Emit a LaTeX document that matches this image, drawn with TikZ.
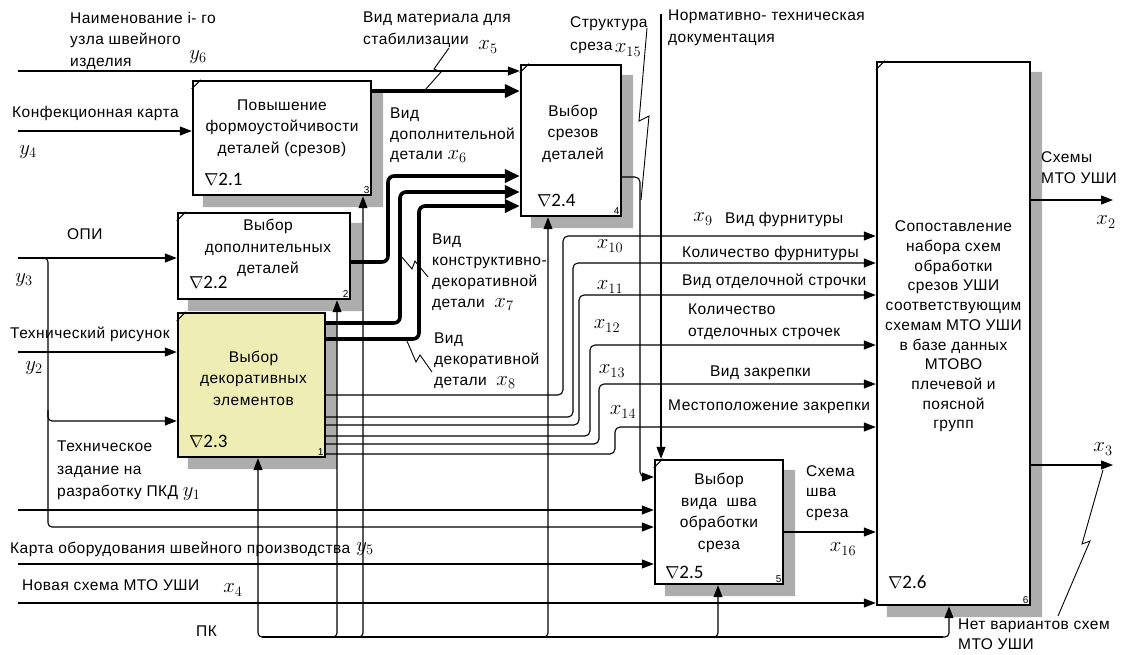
\documentclass[tikz,border=0pt]{standalone}
\usepackage{fontspec}
\setmainfont{Liberation Sans}[LetterSpace=3]
\newfontfamily\numfont{Carlito}
\usetikzlibrary{arrows.meta,positioning,calc,backgrounds}
\definecolor{boxyel}{RGB}{238,238,180}
\newcommand{\xvar}[1]{{\fontsize{21}{21}\selectfont$#1$}}
\newcommand{\boxdeco}[2]{%
    \begin{scope}[on background layer]
        \fill[shd] ($(#1.north east)+(0,11)$) -| ($(#1.south east)+(11,11)$)
            -| ($(#1.south west)+(11,0)$) -- (#1.south east) -- cycle;
    \end{scope}
    \draw[ln] ($(#1.north west)+(0,9)$) -- ($(#1.north west)+(9,0)$);
    \node[tag] at (#1.south east) {#2};
}
\tikzset{
    proc/.style={draw, line width=2.4pt, fill=white, inner sep=0pt},
    shd/.style={fill=black!32},
    ln/.style={line width=1.1pt},
    arr/.style={ln, -{Triangle[length=12pt,width=9pt]}},
    thk/.style={line width=3.6pt, -{Triangle[length=15pt,width=13pt]}},
    zig/.style={line width=0.9pt},
    boxtxt/.style={align=center, inner sep=0pt, font=\fontsize{15.5}{21.5}\selectfont},
    lbl/.style={align=left, inner sep=0pt, anchor=north west, font=\fontsize{15.5}{21.5}\selectfont},
    var/.style={inner sep=0pt, font=\fontsize{21}{24}\selectfont},
    num/.style={inner sep=0pt, anchor=west, font=\numfont\fontsize{19}{22}\selectfont},
    tag/.style={anchor=south east, inner sep=2.5pt, font=\fontsize{10}{12}\selectfont},
}

\begin{document}
\begin{tikzpicture}[x=1pt, y=-1pt]
    \useasboundingbox (0,0) rectangle (1129,654);
    \coordinate (lft) at (18,0);
    \coordinate (rgt) at (1113,0);

    % Function boxes
    \node[proc, minimum width=178pt, minimum height=114pt] (b21) at (282,138) {};
    \node[proc, minimum width=172pt, minimum height=86pt] (b22) at (264,256) {};
    \node[proc, fill=boxyel, minimum width=147pt, minimum height=144pt] (b23) at (251.5,385) {};
    \node[proc, minimum width=100pt, minimum height=151pt] (b24) at (571,140.5) {};
    \node[proc, minimum width=128pt, minimum height=124pt] (b25) at (719,522) {};
    \node[proc, minimum width=153pt, minimum height=543pt] (b26) at (953.5,333.5) {};
    \boxdeco{b21}{3}
    \boxdeco{b22}{2}
    \boxdeco{b23}{1}
    \boxdeco{b24}{4}
    \boxdeco{b25}{5}
    \boxdeco{b26}{6}

    % Box texts
    \node[boxtxt] (t21) at ($(b21)+(0,-10)$) {Повышение\\формоустойчивости\\деталей (срезов)};
    \node[boxtxt] (t22) at ($(b22)+(4,-8)$) {Выбор\\дополнительных\\деталей};
    \node[boxtxt] (t23) at ($(b23)+(2,-7)$) {Выбор\\декоративных\\элементов};
    \node[boxtxt] (t24) at ($(b24)+(2,-7)$) {Выбор\\срезов\\деталей};
    \node[boxtxt] (t25) at ($(b25)+(0,-9)$) {Выбор\\вида\ \ шва\\обработки\\среза};
    \node[boxtxt, font=\fontsize{15.5}{19.7}\selectfont] (t26) at ($(b26)+(0,-7)$)
        {Сопоставление\\набора схем\\обработки\\срезов УШИ\\соответствующим\\схемам МТО УШИ\\в базе данных\\МТОВО\\плечевой и\\поясной\\групп};
    \node[num] at ($(b21.south west)+(12,-17)$) {$\nabla$2.1};
    \node[num] at ($(b22.south west)+(12,-18)$) {$\nabla$2.2};
    \node[num] at ($(b23.south west)+(12,-17)$) {$\nabla$2.3};
    \node[num] at ($(b24.south west)+(17,-17)$) {$\nabla$2.4};
    \node[num] at ($(b25.south west)+(11,-13)$) {$\nabla$2.5};
    \node[num] at ($(b26.south west)+(12,-24)$) {$\nabla$2.6};

    % Inputs
    \draw[arr] (lft |- 0,71) -- (b24.west |- 0,71);
    \draw[arr] (lft |- 0,131) -- (b21.west |- 0,131);
    \draw[arr] (lft |- 0,258) -- (b22.west |- 0,258);
    \draw[arr] (lft |- 0,352) -- (b23.west |- 0,352);
    \draw[arr, rounded corners=4pt] (42,258) -| (48,527) -- (b25.west |- 0,527);
    \draw[arr, rounded corners=4pt] (48,410) |- (b23.west |- 0,421);
    \draw[arr] (lft |- 0,510) -- (b25.west |- 0,510);
    \draw[arr] (lft |- 0,564) -- (b25.west |- 0,564);
    \draw[arr] (lft |- 0,603) -- (b26.west |- 0,603);

    % Controls
    \draw[arr] (661,14) -- (b25.north -| 661,0);
    \draw[arr, rounded corners=5pt] (b24.east |- 0,177) -| (640,477) -- (b25.west |- 0,477);

    % Mechanisms
    \draw[ln] (262,637) -- (943,637);
    \draw[arr, rounded corners=4pt] (266,637) -| (b23.south -| 258,0);
    \draw[arr, rounded corners=4pt] (329,637) -| (b22.south -| 337,0);
    \draw[arr, rounded corners=4pt] (355,637) -| (b21.south -| 363,0);
    \draw[arr, rounded corners=4pt] (540,637) -| (b24.south -| 548,0);
    \draw[arr, rounded corners=4pt] (710,637) -| (b25.south -| 718,0);
    \draw[arr, rounded corners=4pt] (941,637) -| (b26.south -| 949,0);

    % Outputs
    \draw[thk] (b21.east |- 0,91) -- (b24.west |- 0,91);
    \draw[thk, rounded corners=6pt] (b22.east |- 0,262) -| (388,176) -- (b24.west |- 0,176);
    \draw[thk, rounded corners=6pt] (b23.east |- 0,323) -| (400,192) -- (b24.west |- 0,192);
    \draw[thk, rounded corners=6pt] (b23.east |- 0,339) -| (419,206) -- (b24.west |- 0,206);
    \foreach \ys/\xv/\yt in {395/563/236, 417/573/263, 425/579/295, 436/590/345, 444/599/384, 454/615/427}
        \draw[arr, rounded corners=5pt] (b23.east |- 0,\ys) -| (\xv,\yt) -- (b26.west |- 0,\yt);
    \draw[arr] (b25.east |- 0,532) -- (b26.west |- 0,532);
    \draw[arr] (b26.east |- 0,200) -- (rgt |- 0,200);
    \draw[arr] (b26.east |- 0,465) -- (rgt |- 0,465);

    % Squiggles
    \draw[zig] (449,48) -- (434,69) -- (441,72) -- (425,90);
    \draw[zig] (647,28) -- (639,121) -- (649,116) -- (641,200);
    \draw[zig] (428,277) -- (415,261) -- (412,269) -- (401,256);
    \draw[zig] (432,372) -- (420,355) -- (416,362) -- (407,341);
    \draw[zig] (1103,470) -- (1082,544) -- (1090,541) -- (1058,616);

    % Arrow labels
    \node[lbl] (nm) at (70,12) {Наименование i- го\\узла швейного\\изделия};
    \node[var] at (198,57) {$y_6$};
    \node[lbl] (mat) at (363,12) {Вид материала для\\стабилизации};
    \node[var] at (488,47) {$x_5$};
    \node[lbl, font=\fontsize{15.5}{23}\selectfont] (str) at (570,16) {Структура\\среза};
    \node[var] at (628,50) {$x_{15}$};
    \node[lbl] (ntd) at (668,10) {Нормативно- техническая\\документация};
    \node[lbl] (konf) at (12,106) {Конфекционная карта};
    \node[var] at (28,152) {$y_4$};
    \node[lbl] (opi) at (67,228) {ОПИ};
    \node[var] at (24,280) {$y_3$};
    \node[lbl] (tr) at (10,327) {Технический рисунок};
    \node[var] at (34,368) {$y_2$};
    \node[lbl, font=\fontsize{15.5}{22.5}\selectfont] (tz) at (57,441) {Техническое\\задание на\\разработку ПКД \xvar{y_1}};
    \node[lbl] (karta) at (10,542) {Карта оборудования швейного производства};
    \node[var] at (365,549) {$y_5$};
    \node[lbl] (nov) at (22,579) {Новая схема МТО УШИ};
    \node[var] at (233,590) {$x_4$};
    \node[lbl] (pk) at (196,626) {ПК};
    \node[lbl, font=\fontsize{15.5}{20.5}\selectfont] (dop) at (390,108) {Вид\\дополнительной\\детали \xvar{x_6}};
    \node[lbl, font=\fontsize{15.5}{21}\selectfont] (kd) at (432,234) {Вид\\конструктивно-\\декоративной\\детали\ \ \xvar{x_7}};
    \node[lbl, font=\fontsize{15.5}{21}\selectfont] (dd) at (434,333) {Вид\\декоративной\\детали\ \ \xvar{x_8}};
    \node[var] at (703,219) {$x_9$};
    \node[lbl] (f9) at (725,212) {Вид фурнитуры};
    \node[var] at (610,246) {$x_{10}$};
    \node[lbl] (f10) at (682,246) {Количество фурнитуры};
    \node[var] at (610,287) {$x_{11}$};
    \node[lbl] (f11) at (682,274) {Вид отделочной строчки};
    \node[var] at (607,326) {$x_{12}$};
    \node[lbl] (f12) at (688,304) {Количество\\отделочных строчек};
    \node[var] at (612,371) {$x_{13}$};
    \node[lbl] (f13) at (710,366) {Вид закрепки};
    \node[var] at (623,412) {$x_{14}$};
    \node[lbl] (f14) at (668,400) {Местоположение закрепки};
    \node[lbl, font=\fontsize{15.5}{20.5}\selectfont] (shv) at (806,465) {Схема\\шва\\среза};
    \node[var] at (843,549) {$x_{16}$};
    \node[lbl] (sh) at (1041,151) {Схемы\\МТО УШИ};
    \node[var] at (1106,222) {$x_2$};
    \node[var] at (1103,449) {$x_3$};
    \node[lbl, font=\fontsize{15.5}{20}\selectfont] (net) at (958,619) {Нет вариантов схем\\МТО УШИ};
\end{tikzpicture}
\end{document}
